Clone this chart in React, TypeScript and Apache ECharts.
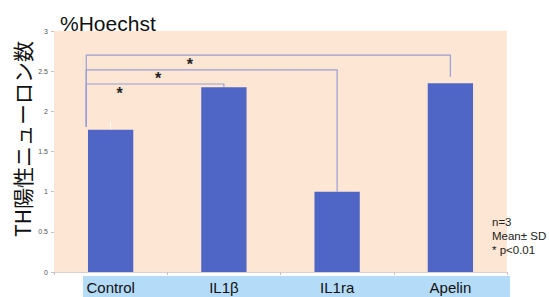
import React, { useEffect, useRef } from "react";
import * as echarts from "echarts";

const categories = ["Control", "IL1β", "IL1ra", "Apelin"];
const values = [1.77, 2.3, 1.0, 2.35];
const sdTop = [1.87, 2.3, 1.0, 2.35];
const yTicks = [0, 0.5, 1, 1.5, 2, 2.5, 3];
// [toIndex, bracketLevel, rightLegBottom, leftLegBottom]
const brackets = [
  [1, 2.34, 2.3, 1.805],
  [2, 2.515, 1.0, 1.805],
  [3, 2.7, 2.43, 1.805],
];
const starOffsets = [0.08, 0.42, 0.7];
const notes = ["n=3", "Mean± SD", "* p<0.01"];

export default function App() {
  const ref = useRef<HTMLDivElement>(null);
  useEffect(() => {
    const chart = echarts.init(ref.current!, undefined, { renderer: "svg" });
    chart.setOption({
      animation: false,
      backgroundColor: "#ffffff",
      grid: { left: 54, right: 42, top: 31, bottom: 25, show: true, backgroundColor: "#fde6d4", borderWidth: 0 },
      xAxis: {
        type: "category",
        data: categories,
        axisLine: { show: true, lineStyle: { color: "#d8d0cc", width: 1 } },
        axisTick: { show: true, length: 3, lineStyle: { color: "#c8c0bc" } },
        axisLabel: { show: true, margin: 8, fontSize: 15, color: "#111", fontFamily: "Liberation Sans, Arial, sans-serif" },
      },
      yAxis: {
        type: "value",
        min: 0,
        max: 3,
        interval: 0.5,
        axisLine: { show: false },
        axisTick: { show: true, length: 3, lineStyle: { color: "#c8c0bc" } },
        splitLine: { show: false },
        axisLabel: {
          fontSize: 7,
          color: "#555",
          margin: 6,
          fontFamily: "Liberation Sans, Arial, sans-serif",
          formatter: (v: number) => (yTicks.includes(v) ? String(v) : ""),
        },
      },
      graphic: [
        { type: "rect", z: 0, zlevel: 0, shape: { x: 83, y: 276, width: 427, height: 21 }, style: { fill: "#b4dbf8" } },
        {
          type: "text",
          x: 60,
          y: 34,
          style: { text: "%Hoechst", fontSize: 21, fill: "#111", fontFamily: "Liberation Sans, Arial, sans-serif", verticalAlign: "bottom" },
        },
        {
          type: "text",
          x: 22,
          y: 139,
          rotation: Math.PI / 2,
          style: {
            text: "TH陽性ニューロン数",
            fontSize: 21,
            fill: "#111",
            fontFamily: "Noto Sans CJK JP, sans-serif",
            align: "center",
            verticalAlign: "middle",
          },
        },
        ...notes.map((t, i) => ({
          type: "text",
          x: 492,
          y: 222 + i * 14,
          style: { text: t, fontSize: 11.5, fill: "#222", fontFamily: "Liberation Sans, Arial, sans-serif", verticalAlign: "middle" },
        })),
      ],
      series: [
        {
          type: "bar",
          data: values,
          barWidth: "40%",
          itemStyle: { color: "#4f66c6" },
          z: 2,
        },
        {
          type: "custom",
          z: 3,
          data: values.map((v, i) => [i, v, sdTop[i]]),
          renderItem: (params: any, api: any) => {
            const i = api.value(0);
            const a = api.coord([i, api.value(1)]);
            const b = api.coord([i, api.value(2)]);
            return {
              type: "line",
              shape: { x1: a[0], y1: a[1], x2: b[0], y2: b[1] },
              style: { stroke: "rgba(255,255,255,0.75)", lineWidth: 1 },
            };
          },
        },
        {
          type: "custom",
          z: 4,
          data: brackets.map((b, k) => [b[0], b[1], b[2], b[3], starOffsets[k]]),
          renderItem: (params: any, api: any) => {
            const to = api.value(0);
            const lvl = api.value(1);
            const rb = api.value(2);
            const lb = api.value(3);
            const so = api.value(4);
            const w = api.size([1, 0])[0];
            const L = api.coord([0, lvl]);
            const lx = L[0] - w * 0.215;
            const R = api.coord([to, lvl]);
            const rBot = api.coord([to, rb]);
            const lBot = api.coord([0, lb]);
            return {
              type: "group",
              children: [
                {
                  type: "polyline",
                  shape: { points: [[lx, lBot[1]], [lx, L[1]], [R[0], R[1]], [R[0], rBot[1]]] },
                  style: { stroke: "#9a9fd6", lineWidth: 1.2, fill: null },
                },
                {
                  type: "text",
                  x: L[0] + w * so,
                  y: L[1] + 1,
                  style: { text: "*", fontSize: 16, fontWeight: "bold", fill: "#222", align: "center", verticalAlign: "top", fontFamily: "Liberation Sans, Arial, sans-serif" },
                },
              ],
            };
          },
        },
      ],
    });
    return () => chart.dispose();
  }, []);
  return <div ref={ref} style={{ width: 549, height: 297, position: "absolute", left: 0, top: 0 }} />;
}
